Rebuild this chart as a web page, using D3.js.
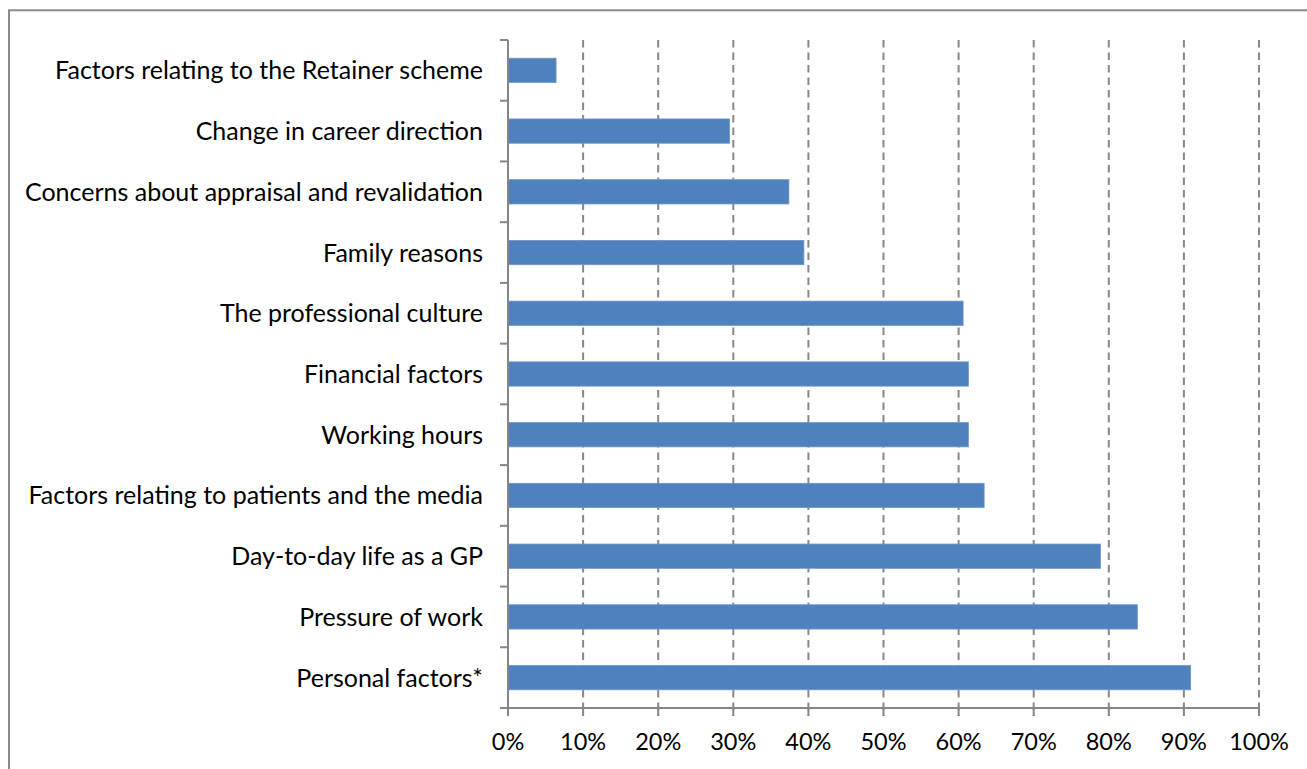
<!DOCTYPE html>
<html>
<head>
<meta charset="utf-8">
<script src="https://cdn.jsdelivr.net/npm/d3@7"></script>
<style>
  body { margin: 0; background: #fff; }
  text { font-family: Lato, "Open Sans", sans-serif; fill: #000; }
</style>
</head>
<body>
<div id="chart"></div>
<script>
// Data (top to bottom)
var categories = [
  "Factors relating to the Retainer scheme",
  "Change in career direction",
  "Concerns about appraisal and revalidation",
  "Family reasons",
  "The professional culture",
  "Financial factors",
  "Working hours",
  "Factors relating to patients and the media",
  "Day-to-day life as a GP",
  "Pressure of work",
  "Personal factors*"
];
var values = [6.4, 29.5, 37.4, 39.4, 60.6, 61.3, 61.3, 63.4, 78.9, 83.8, 90.9];
var xTicks = [0, 10, 20, 30, 40, 50, 60, 70, 80, 90, 100];

var W = 1307, H = 769;
var margin = { top: 40, left: 508, right: 48, bottom: 61 };

var svg = d3.select("#chart").append("svg")
  .attr("width", W)
  .attr("height", H);

// outer chart border
svg.append("rect")
  .attr("x", 9).attr("y", 10.3)
  .attr("width", W + 10).attr("height", H + 10)
  .attr("fill", "none")
  .attr("stroke", "#8a8a8a")
  .attr("stroke-width", 2);

var x = d3.scaleLinear()
  .domain([0, 100])
  .range([margin.left, W - margin.right]);

var y = d3.scaleBand()
  .domain(categories)
  .range([margin.top, H - margin.bottom]);

var y0 = y.range()[0], y1 = y.range()[1];

// dashed gridlines
svg.selectAll(".grid")
  .data(xTicks.filter(d => d > 0))
  .enter().append("line")
  .attr("class", "grid")
  .attr("x1", d => x(d)).attr("x2", d => x(d))
  .attr("y1", y0).attr("y2", y1 + 8)
  .attr("stroke", "#888")
  .attr("stroke-width", 2)
  .attr("stroke-dasharray", "7.5,5");

// bars
var barH = y.bandwidth() * 0.4;
svg.selectAll(".bar")
  .data(values)
  .enter().append("rect")
  .attr("class", "bar")
  .attr("x", x(0))
  .attr("y", (d, i) => y(categories[i]) + (y.bandwidth() - barH) / 2)
  .attr("width", d => x(d) - x(0))
  .attr("height", barH)
  .attr("fill", "#4f81bd")
  .attr("stroke", "#6d97cc")
  .attr("stroke-width", 0.8);

// y axis line + ticks between categories
svg.append("line")
  .attr("x1", x(0)).attr("x2", x(0))
  .attr("y1", y0).attr("y2", y1)
  .attr("stroke", "#868686").attr("stroke-width", 2);

var bounds = categories.map(c => y(c)).concat([y1]);
svg.selectAll(".ytick")
  .data(bounds)
  .enter().append("line")
  .attr("x1", x(0) - 8).attr("x2", x(0))
  .attr("y1", d => d).attr("y2", d => d)
  .attr("stroke", "#868686").attr("stroke-width", 2);

// category labels
svg.selectAll(".ylabel")
  .data(categories)
  .enter().append("text")
  .attr("x", x(0) - 25)
  .attr("y", d => y(d) + y.bandwidth() / 2)
  .attr("dy", "0.36em")
  .attr("text-anchor", "end")
  .style("font-size", "25px")
  .text(d => d);

// x axis line + ticks
svg.append("line")
  .attr("x1", x(0) - 1).attr("x2", x(100) + 1)
  .attr("y1", y1).attr("y2", y1)
  .attr("stroke", "#868686").attr("stroke-width", 2);

svg.selectAll(".xtick")
  .data(xTicks)
  .enter().append("line")
  .attr("x1", d => x(d)).attr("x2", d => x(d))
  .attr("y1", y1).attr("y2", y1 + 8)
  .attr("stroke", "#868686").attr("stroke-width", 2);

svg.selectAll(".xlabel")
  .data(xTicks)
  .enter().append("text")
  .attr("x", d => x(d))
  .attr("y", 750)
  .attr("text-anchor", "middle")
  .style("font-size", "23.5px")
  .text(d => d + "%");
</script>
</body>
</html>
